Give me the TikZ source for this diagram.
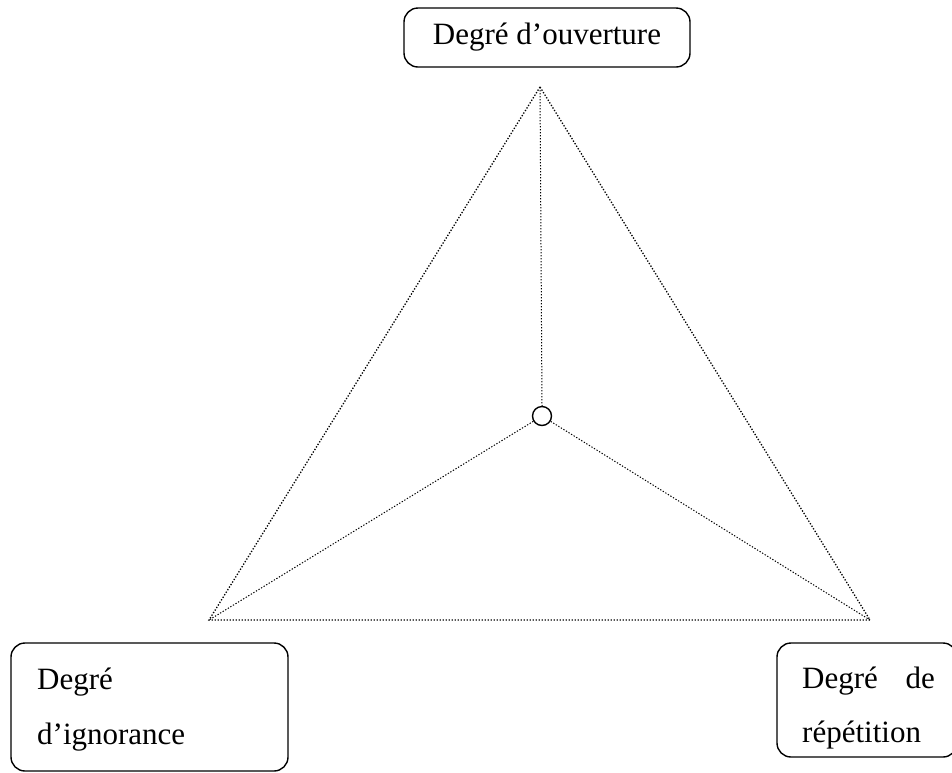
\documentclass[tikz,border=0pt]{standalone}
\usepackage{fontspec}
\setmainfont{Liberation Serif}
\begin{document}
\begin{tikzpicture}[x=1pt,y=-1pt,
  box/.style={draw,line width=1.4pt,rounded corners=14pt,inner sep=0pt},
  lbl/.style={anchor=base west,inner sep=0pt,font=\fontsize{31}{31}\selectfont},
  dots/.style={line width=1.3pt,dash pattern=on 1.3pt off 1.7pt}]
\useasboundingbox (0,0) rectangle (952,772);
\node[box,minimum width=286pt,minimum height=59pt,font=\fontsize{31}{31}\selectfont] (top) at (547,37.5) {Degré d’ouverture};
\node[box,minimum width=277pt,minimum height=128pt] (left) at (149.5,707) {};
\node[box,minimum width=180pt,minimum height=114pt] (right) at (867,700) {};
\node[lbl] (l1) at (37,689) {Degré};
\node[lbl] (l2) at (37,744) {d’ignorance};
\node[lbl] (r1) at (802,688) {Degré};
\node[lbl,anchor=base east] (r2) at (935,688) {de};
\node[lbl] (r3) at (802,742) {répétition};
\coordinate (A) at (540,87);
\coordinate (B) at (209,620);
\coordinate (C) at (870,620);
\node[draw,circle,line width=1.4pt,minimum size=19pt,inner sep=0pt] (c) at (542,416) {};
\draw[dots] (A) -- (B) -- (C) -- cycle;
\draw[dots,line width=1pt] (A) -- (c.north);
\draw[dots,line width=1pt] (c) -- (B);
\draw[dots,line width=1pt] (c) -- (C);
\end{tikzpicture}
\end{document}
